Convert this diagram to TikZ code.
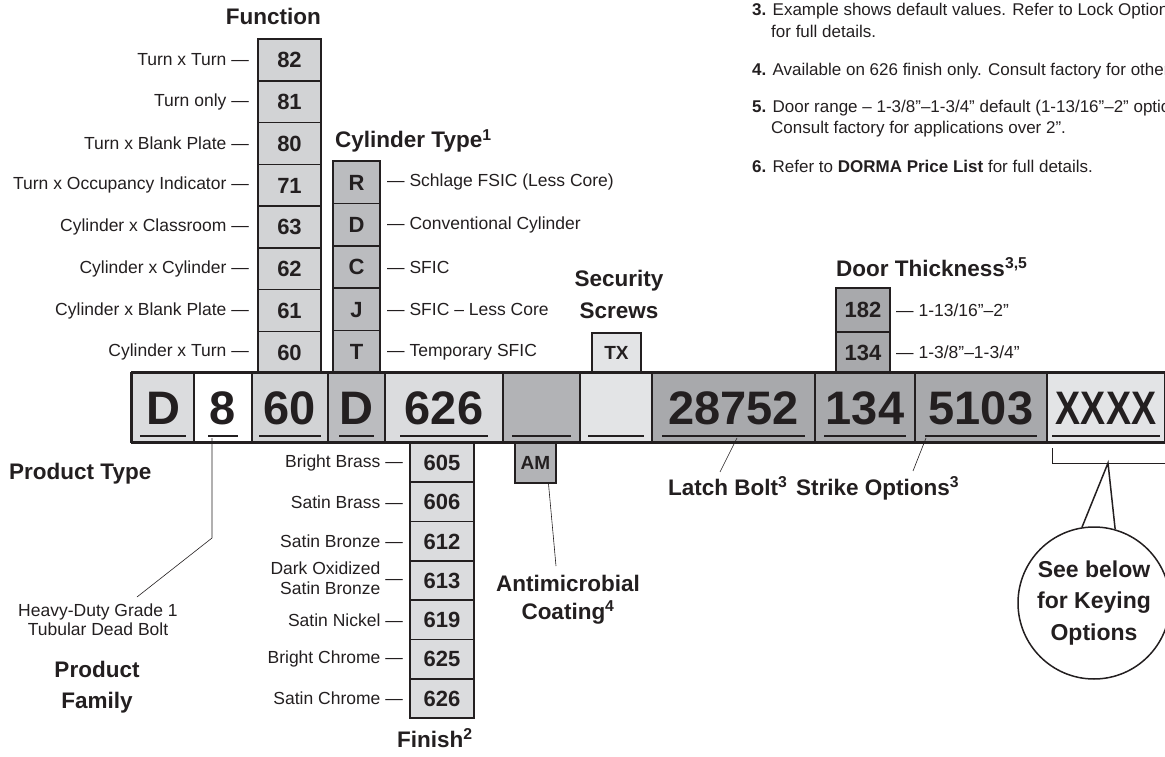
\documentclass[tikz,border=0pt]{standalone}
\usepackage{fontspec}
\setmainfont{Liberation Sans}
\usepackage{tikz}
\usetikzlibrary{positioning}

\definecolor{ink}{HTML}{231F20}
\definecolor{palecell}{HTML}{E3E4E6}
\definecolor{lightcell}{HTML}{DBDCDE}
\definecolor{fncell}{HTML}{D2D3D5}
\definecolor{cylcell}{HTML}{BBBCBF}
\definecolor{amcell}{HTML}{B2B3B6}
\definecolor{darkcell}{HTML}{A8A9AC}

\tikzset{
  codebox/.style={draw=ink, line width=1.8pt, minimum height=69pt, inner sep=0pt,
    text height=33.7pt, text depth=0pt, text=ink,
    font=\fontsize{47}{47}\selectfont\bfseries},
  optbox/.style={draw=ink, line width=1.6pt, inner sep=0pt, text=ink,
    text height=15.7pt, text depth=0pt,
    font=\fontsize{22}{22}\selectfont\bfseries},
  optlabel/.style={inner sep=0pt, text=ink, font=\fontsize{17.5}{19.5}\selectfont},
  heading/.style={inner sep=0pt, text=ink, font=\fontsize{22.5}{22.5}\selectfont\bfseries},
  noteline/.style={inner sep=0pt, text=ink, anchor=base west,
    font=\fontsize{17}{17}\selectfont},
  leader/.style={draw=ink, line width=0.6pt},
}

\begin{document}
\begin{tikzpicture}[x=1pt,y=-1pt]
\useasboundingbox (0,0) rectangle (1165,757);

% notes
\node[noteline] (note3) at (752,16) {\textbf{3.} Example shows default values. Refer to Lock Options};
\node[noteline] (note3b) at (771,38) {for full details.};
\node[noteline] (note4) at (752,76) {\textbf{4.} Available on 626 finish only. Consult factory for other finishes.};
\node[noteline] (note5) at (752,113) {\textbf{5.} Door range – 1-3/8"–1-3/4" default (1-13/16"–2" optional).};
\node[noteline] (note5b) at (771,134) {Consult factory for applications over 2".};
\node[noteline] (note6) at (752,172) {\textbf{6.} Refer to \textbf{DORMA Price List} for full details.};

% function column
\foreach \val/\lbl [count=\i from 0] in {82/Turn x Turn, 81/Turn only, 80/Turn x Blank Plate,
    71/Turn x Occupancy Indicator, 63/Cylinder x Classroom, 62/Cylinder x Cylinder,
    61/Cylinder x Blank Plate, 60/Cylinder x Turn}{
  \node[optbox, fill=fncell, minimum width=63pt, minimum height=41.75pt]
    (fn\val) at (289.5,{60+\i*41.75}) {\val};
  \node[optlabel, anchor=east] (fnlbl\val) at (249,{60+\i*41.75}) {\lbl~—};
}
\node[heading, anchor=base east] (fntitle) at (321,25) {Function};

% cylinder column
\foreach \val/\lbl [count=\i from 0] in {R/Schlage FSIC (Less Core), D/Conventional Cylinder,
    C/SFIC, J/SFIC – Less Core, T/Temporary SFIC}{
  \node[optbox, fill=cylcell, minimum width=47pt, minimum height=42.4pt]
    (cy\val) at (356.5,{182.2+\i*42.4}) {\val};
  \node[optlabel, anchor=west] (cylbl\val) at (387,{182.2+\i*42.4}) {—~\lbl};
}
\node[heading, anchor=base west] (cytitle) at (335,148) {Cylinder Type\textsuperscript{1}};

% security screws
\node[heading, anchor=base] (sectitle) at (619,286) {Security};
\node[heading, anchor=base] (sectitleb) at (619,318) {Screws};
\node[optbox, fill=palecell, minimum width=49pt, minimum height=40pt,
  font=\fontsize{19}{19}\selectfont\bfseries, text height=13.6pt] (tx) at (616.5,353) {TX};

% door thickness
\node[heading, anchor=base west] (doortitle) at (836,276) {Door Thickness\textsuperscript{3,5}};
\node[optbox, fill=darkcell, minimum width=54pt, minimum height=44pt] (dr182) at (863,310) {182};
\node[optbox, fill=darkcell, minimum width=54pt, minimum height=41pt] (dr134) at (863,352.5) {134};
\node[optlabel, anchor=west] (drlbl182) at (896,310) {—~1-13/16"–2"};
\node[optlabel, anchor=west] (drlbl134) at (896,352.5) {—~1-3/8"–1-3/4"};

% code row
\foreach \nm/\xa/\xb/\col/\txt/\ins in {
    ptype/132/194/lightcell/D/8,
    pfamily/194/252/white/8/14,
    func/252/328/fncell/60/7,
    cyl/328/385/cylcell/D/11,
    finish/385/503/lightcell/626/15,
    coat/503/580/amcell/{}/9,
    screws/580/652/palecell/{}/8,
    latch/652/815/darkcell/28752/10,
    door/815/915/darkcell/134/9,
    strike/915/1047/darkcell/5103/10,
    keys/1047/1165/palecell/{\addfontfeature{FakeStretch=0.8}XXXX}/5}{
  \node[codebox, fill=\col, minimum width={\xb-\xa}] (\nm) at ({(\xa+\xb)/2},407.5) {\txt};
  \draw[line width=2.4pt, ink] (\xa+\ins,436) -- (\xb-\ins,436);
}
\draw[line width=2.6pt, ink] (ptype.north west) -- (keys.north east);
\draw[line width=2.6pt, ink] (ptype.south west) -- (keys.south east);
\draw[line width=2.6pt, ink] (ptype.north west) -- (ptype.south west);

% finish column
\foreach \val/\lbl [count=\i from 0] in {605/Bright Brass, 606/Satin Brass, 612/Satin Bronze,
    613/{\begin{tabular}{@{}r@{}}Dark Oxidized\\Satin Bronze\end{tabular}}, 619/Satin Nickel,
    625/Bright Chrome, 626/Satin Chrome}{
  \node[optbox, fill=lightcell, minimum width=64pt, minimum height=39.3pt]
    (fin\val) at (442,{462.6+\i*39.3}) {\val};
  \node[optlabel, anchor=east] (finlbl\val) at (403,{462.6+\i*39.3}) {\lbl~—};
}
\node[heading, anchor=base west] (fintitle) at (397,747) {Finish\textsuperscript{2}};

% antimicrobial
\node[optbox, fill=amcell, minimum width=41pt, minimum height=40pt,
  font=\fontsize{19}{19}\selectfont\bfseries, text height=13.6pt] (am) at (535.5,463) {AM};
\node[heading, anchor=base] (amtitle) at (568,591) {Antimicrobial};
\node[heading, anchor=base] (amtitleb) at (568,619) {Coating\textsuperscript{4}};
\coordinate (amfoot) at (556,566);
\draw[leader] ([xshift=13pt]am.south) -- (amfoot);

% product type and family
\node[heading, anchor=base west] (typetitle) at (9,479) {Product Type};
\node[optlabel, anchor=base] (famdesc) at (98,616) {Heavy-Duty Grade 1};
\node[optlabel, anchor=base] (famdescb) at (98,635) {Tubular Dead Bolt};
\node[heading, anchor=base] (famtitle) at (97,677) {Product};
\node[heading, anchor=base] (famtitleb) at (97,708) {Family};
\coordinate (famtop) at (212,438);
\coordinate (fambend) at (212,538);
\coordinate (famend) at (137,597);
\draw[leader] (famtop) -- (fambend) -- (famend);

% latch bolt and strike
\node[heading, anchor=base west] (latchtitle) at (668,495) {Latch Bolt\textsuperscript{3}};
\node[heading, anchor=base west] (striketitle) at (796,495) {Strike Options\textsuperscript{3}};
\coordinate (latchtop) at (737,438);
\coordinate (latchfoot) at (720,472);
\draw[leader] (latchtop) -- (latchfoot);
\coordinate (striketop) at (926,438);
\coordinate (strikefoot) at (913,471);
\draw[leader] (striketop) -- (strikefoot);

% keying balloon
\coordinate (brkl) at (1052,448);
\coordinate (brkr) at (1170,463);
\coordinate (brkapex) at (1108,463);
\draw[leader, line width=0.8pt] (brkl) |- (brkr);
\node[draw=ink, line width=1.5pt, circle, minimum size=152pt, inner sep=0pt,
  align=center, text=ink, font=\fontsize{23}{31.5}\selectfont\bfseries]
  (keying) at (1094,603) {See below\\for Keying\\Options};
\draw[line width=1.5pt, ink] (keying.99) -- (brkapex) -- (keying.74);
\end{tikzpicture}
\end{document}
